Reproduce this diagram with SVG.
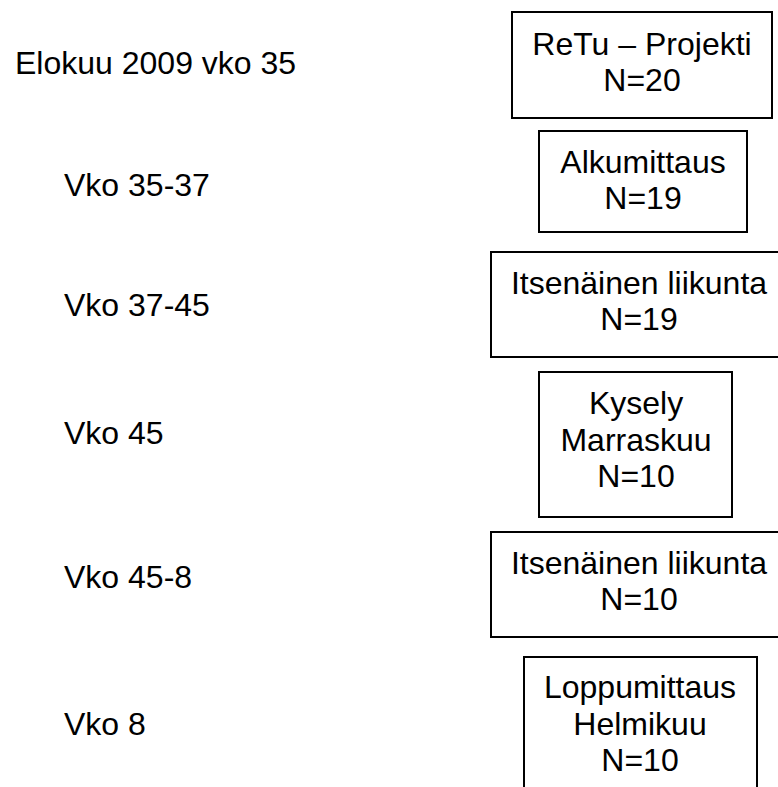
<svg xmlns="http://www.w3.org/2000/svg" width="778" height="787" viewBox="0 0 778 787">
<style>
text{font-family:"Liberation Sans",Arial,sans-serif;font-size:32px;fill:#000}
.c{text-anchor:middle}
rect{fill:#fff;stroke:#000;stroke-width:2}
</style>
<rect x="0" y="0" width="778" height="787" style="stroke:none"/>
<g id="labels">
<text x="15" y="74">Elokuu 2009 vko 35</text>
<text x="64" y="196">Vko 35-37</text>
<text x="64" y="316">Vko 37-45</text>
<text x="64" y="444">Vko 45</text>
<text x="64" y="588">Vko 45-8</text>
<text x="64" y="735">Vko 8</text>
</g>
<g id="n1"><rect x="512" y="12" width="260" height="106"/><text class="c" x="642" y="55">ReTu – Projekti</text><text class="c" x="642" y="91">N=20</text></g>
<g id="n2"><rect x="539" y="131" width="208" height="101"/><text class="c" x="643" y="173">Alkumittaus</text><text class="c" x="643" y="209">N=19</text></g>
<g id="n3"><rect x="491" y="252" width="300" height="105"/><text class="c" x="639" y="294">Itsenäinen liikunta</text><text class="c" x="639" y="330">N=19</text></g>
<g id="n4"><rect x="539" y="372" width="193" height="145"/><text class="c" x="636" y="414">Kysely</text><text class="c" x="636" y="451">Marraskuu</text><text class="c" x="636" y="487">N=10</text></g>
<g id="n5"><rect x="491" y="532" width="300" height="105"/><text class="c" x="639" y="574">Itsenäinen liikunta</text><text class="c" x="639" y="610">N=10</text></g>
<g id="n6"><rect x="524" y="657" width="233" height="150"/><text class="c" x="640" y="698">Loppumittaus</text><text class="c" x="640" y="735">Helmikuu</text><text class="c" x="640" y="771">N=10</text></g>
<g id="connectors"></g>
</svg>
